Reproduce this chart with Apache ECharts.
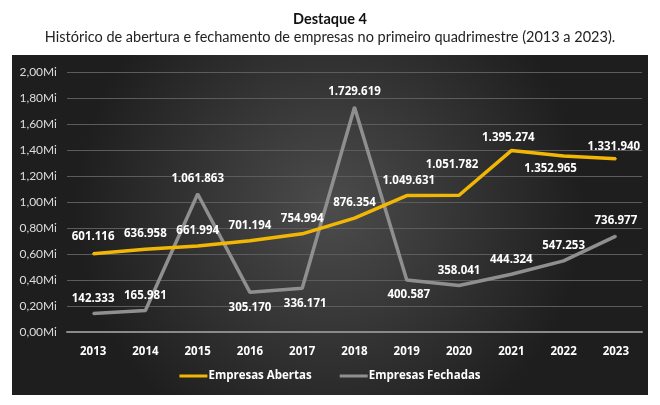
<!DOCTYPE html>
<html>
<head>
<meta charset="utf-8">
<script src="https://cdn.jsdelivr.net/npm/echarts@6/dist/echarts.min.js"></script>
<style>
  html, body { margin: 0; padding: 0; background: #fff; }
  #chart { width: 660px; height: 405px; }
</style>
</head>
<body>
<div id="chart"></div>
<script>
const anos = ['2013', '2014', '2015', '2016', '2017', '2018', '2019', '2020', '2021', '2022', '2023']
const abertas = [601116, 636958, 661994, 701194, 754994, 876354, 1049631, 1051782, 1395274, 1352965, 1331940]
const fechadas = [142333, 165981, 1061863, 305170, 336171, 1729619, 400587, 358041, 444324, 547253, 736977]
// onde fica o rótulo de cada ponto, e um pequeno deslocamento [dx, dy]
const posAbertas = ['top', 'top', 'top', 'top', 'top', 'top', 'top', 'top', 'top', 'bottom', 'top']
const posFechadas = ['top', 'top', 'top', 'bottom', 'bottom', 'top', 'bottom', 'top', 'top', 'top', 'top']
const ajusteAbertas = [[0, -2], [0, 0], [0, 0], [0, 0], [0, 0], [0, 0], [2, 0], [-7, -16], [-3, 2], [-13, -2], [-2, 3]]
const ajusteFechadas = [[0, 0], [0, 0], [0, 0], [0, 0], [3, 0], [0, 0], [2, 0], [0, 0], [0, 0], [0, 0], [0, 0]]

const fmt = v => v.toLocaleString('de-DE')

const chart = echarts.init(document.getElementById('chart'))

const labelStyle = {
  show: true,
  color: '#ffffff',
  fontFamily: 'Open Sans',
  fontWeight: 'bold',
  fontSize: 11.5,
  distance: 8,
  formatter: p => fmt(p.value)
}

function pontos(valores, pos, ajuste) {
  return valores.map((v, i) => ({ value: v, label: { position: pos[i], offset: ajuste[i] } }))
}

const option = {
  backgroundColor: '#ffffff',
  animation: false,
  title: {
    text: 'Destaque 4',
    subtext: 'Histórico de abertura e fechamento de empresas no primeiro quadrimestre (2013 a 2023).',
    left: 'center',
    top: 7,
    itemGap: 3,
    textStyle: { fontFamily: 'Lato', fontWeight: 'bold', fontSize: 14.5, color: '#111' },
    subtextStyle: { fontFamily: 'Lato', fontSize: 14.5, color: '#222' }
  },
  graphic: [{
    type: 'rect',
    z: -10,
    shape: { x: 12, y: 55, width: 636, height: 340 },
    style: {
      fill: {
        type: 'radial', x: 0.5, y: 0.45, r: 0.75,
        colorStops: [
          { offset: 0, color: '#4c4c4c' },
          { offset: 1, color: '#1e1e1e' }
        ]
      }
    }
  }],
  grid: { left: 67, right: 18, top: 72, bottom: 73 },
  legend: {
    bottom: 18,
    left: 'center',
    itemWidth: 28,
    itemHeight: 3,
    itemGap: 28,
    icon: 'rect',
    textStyle: { color: '#ffffff', fontFamily: 'Open Sans', fontWeight: 'bold', fontSize: 11.5, padding: [0, 0, 0, -4] },
    data: ['Empresas Abertas', 'Empresas Fechadas']
  },
  xAxis: {
    type: 'category',
    data: anos,
    boundaryGap: true,
    axisLine: { lineStyle: { color: '#8a8a8a', width: 2 } },
    axisTick: { show: false },
    axisLabel: { color: '#ffffff', fontFamily: 'Open Sans', fontWeight: 'bold', fontSize: 11.5, margin: 14 }
  },
  yAxis: {
    type: 'value',
    min: 0,
    max: 2000000,
    interval: 200000,
    axisLine: { show: false },
    axisTick: { show: false },
    splitLine: { lineStyle: { color: '#5c5c5c', width: 1 } },
    axisLabel: {
      color: '#dcdcdc',
      fontFamily: 'Lato',
      fontSize: 12,
      margin: 10,
      formatter: v => (v / 1000000).toFixed(2).replace('.', ',') + 'Mi'
    }
  },
  series: [
    {
      name: 'Empresas Abertas',
      type: 'line',
      data: pontos(abertas, posAbertas, ajusteAbertas),
      symbol: 'circle',
      symbolSize: 2,
      showSymbol: true,
      itemStyle: { color: '#f2b705' },
      lineStyle: { color: '#f2b705', width: 3.5 },
      label: labelStyle,
      z: 3
    },
    {
      name: 'Empresas Fechadas',
      type: 'line',
      data: pontos(fechadas, posFechadas, ajusteFechadas),
      symbol: 'circle',
      symbolSize: 2,
      showSymbol: true,
      itemStyle: { color: '#8f8f8f' },
      lineStyle: { color: '#8f8f8f', width: 3.5 },
      label: labelStyle,
      z: 2
    }
  ]
}

chart.setOption(option)
</script>
</body>
</html>
